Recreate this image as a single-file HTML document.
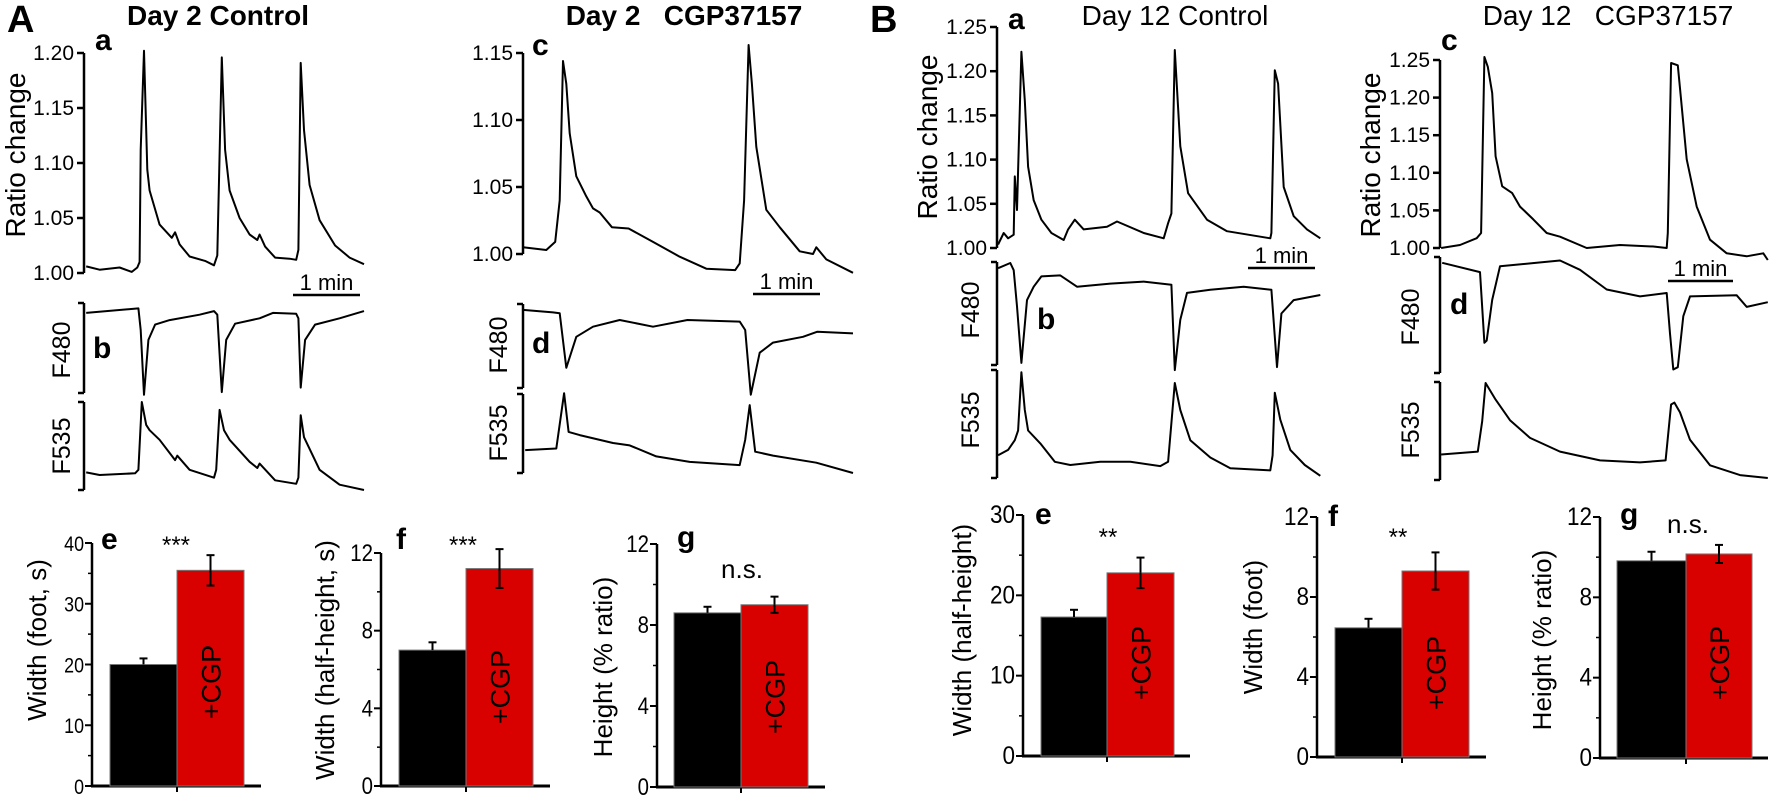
<!DOCTYPE html>
<html><head><meta charset="utf-8"><title>Calcium ratio traces and bar charts</title>
<style>
html,body{margin:0;padding:0;background:#fff;}
svg{display:block;font-family:"Liberation Sans",sans-serif;}
svg text{white-space:pre;}
</style></head>
<body>
<svg id="fig" width="1772" height="799" viewBox="0 0 1772 799" xmlns="http://www.w3.org/2000/svg"></svg>
<script>
// ===== Trace data (time in s, value in ratio / normalized fluorescence) =====
const aRatioT = [2,14,32,43,48,50,51,54,57,59,68,79,82,86,95,109,117,120,124,127,131,140,149,156,158,163,172,185,191,193,195,198,203,212,226,239,252];
const aRatioV = [1.006,1.003,1.005,1.001,1.005,1.010,1.112,1.202,1.094,1.075,1.044,1.032,1.037,1.026,1.015,1.011,1.007,1.016,1.196,1.112,1.075,1.050,1.035,1.030,1.035,1.024,1.014,1.013,1.012,1.021,1.191,1.130,1.080,1.048,1.025,1.014,1.008];
const aF480T = [2,49,51,54,58,64,77,104,117,120,124,128,136,158,170,191,193,195,199,208,230,252];
const aF480V = [0.89,0.94,0.70,-0.02,0.59,0.76,0.81,0.87,0.91,0.87,0.01,0.59,0.77,0.83,0.89,0.88,0.83,0.06,0.59,0.76,0.83,0.91];
const aF535T = [2,14,46,49,52,56,59,68,82,84,95,117,119,122,126,131,149,156,158,172,191,193,195,198,212,230,252];
const aF535V = [0.20,0.17,0.19,0.23,1.0,0.74,0.68,0.57,0.34,0.39,0.23,0.14,0.23,0.91,0.68,0.57,0.32,0.25,0.30,0.11,0.07,0.14,0.85,0.60,0.23,0.06,0.0];

const cRatioT = [0,21,29,33,36,39,42,48,57,63,69,80,95,117,141,165,191,195,199,203,206,210,219,231,249,261,264,273,297];
const cRatioV = [1.005,1.003,1.009,1.040,1.144,1.127,1.090,1.058,1.043,1.034,1.031,1.020,1.019,1.009,0.998,0.989,0.988,0.993,1.040,1.156,1.127,1.080,1.033,1.020,1.002,1.000,1.005,0.996,0.986];
const cF480T = [0,27,33,39,48,63,87,117,148,195,200,205,213,225,252,265,297];
const cF480V = [0.93,0.90,0.89,0.24,0.61,0.73,0.81,0.73,0.81,0.79,0.69,-0.08,0.42,0.54,0.61,0.67,0.65];
const cF535T = [2,30,37,41,51,81,96,120,150,195,200,204,209,225,264,297];
const cF535V = [0.29,0.31,1.01,0.52,0.48,0.38,0.35,0.21,0.14,0.10,0.42,0.86,0.27,0.22,0.13,0.0];

const bRatioT = [1,6,10,15,16,18,22,25,28,33,40,49,60,64,70,78,99,108,132,150,154,157,160,165,172,189,207,246,247,250,253,258,267,279,291];
const bRatioV = [1.004,1.017,1.011,1.015,1.081,1.043,1.222,1.167,1.092,1.054,1.032,1.017,1.009,1.021,1.032,1.021,1.024,1.030,1.017,1.011,1.028,1.039,1.224,1.115,1.062,1.032,1.019,1.011,1.017,1.201,1.186,1.069,1.036,1.021,1.011];
const bF480T = [1,12,15,18,22,27,33,40,57,72,102,132,157,160,165,171,192,222,247,252,256,267,291];
const bF480V = [0.94,0.99,0.92,0.57,0.02,0.63,0.76,0.86,0.87,0.76,0.79,0.81,0.78,-0.05,0.44,0.70,0.73,0.76,0.73,-0.02,0.50,0.63,0.68];
const bF535T = [1,10,16,19,22,25,28,39,52,66,93,120,147,154,160,165,174,192,210,246,248,250,255,264,277,291];
const bF535V = [0.21,0.26,0.35,0.44,0.98,0.63,0.44,0.32,0.15,0.12,0.15,0.15,0.11,0.15,0.88,0.63,0.35,0.19,0.09,0.07,0.21,0.79,0.54,0.26,0.12,0.02];

const dRatioT = [1,18,33,37,40,43,47,50,56,65,72,84,96,108,132,162,192,204,205,208,214,217,222,231,243,258,276,291,295];
const dRatioV = [1.000,1.004,1.013,1.020,1.254,1.241,1.206,1.122,1.082,1.073,1.055,1.038,1.020,1.015,1.000,1.004,1.002,1.000,1.020,1.246,1.243,1.197,1.118,1.055,1.011,0.993,0.989,0.993,0.984];
const dF480T = [2,36,40,42,47,54,87,108,126,150,180,204,207,210,214,219,225,267,276,295];
const dF480V = [0.95,0.87,0.26,0.28,0.63,0.92,0.95,0.97,0.89,0.72,0.66,0.69,0.34,0.03,0.05,0.49,0.66,0.67,0.57,0.61];
const dF535T = [1,34,38,41,50,63,81,108,144,180,203,208,211,216,225,243,270,295];
const dF535V = [0.26,0.29,0.6,0.99,0.82,0.61,0.43,0.29,0.20,0.18,0.20,0.77,0.79,0.69,0.41,0.15,0.05,0.02];

// ===== Bar data =====
const barGroups = ["Control", "+CGP"];
const aeValues = [20.0, 35.5];  const aeErrors = [1.0, 2.5];  const aeTicks = ["0","10","20","30","40"];
const afValues = [7.0, 11.2];   const afErrors = [0.4, 1.0];  const afTicks = ["0","4","8","12"];
const agValues = [8.6, 9.0];    const agErrors = [0.3, 0.4];  const agTicks = ["0","4","8","12"];
const beValues = [17.3, 22.8];  const beErrors = [0.9, 1.9];  const beTicks = ["0","10","20","30"];
const bfValues = [6.46, 9.3];   const bfErrors = [0.45, 0.93]; const bfTicks = ["0","4","8","12"];
const bgValues = [9.82, 10.16]; const bgErrors = [0.45, 0.45]; const bgTicks = ["0","4","8","12"];
const ratioTicksA = ["1.00","1.05","1.10","1.15","1.20"];
const ratioTicksC = ["1.00","1.05","1.10","1.15"];
const ratioTicksB = ["1.00","1.05","1.10","1.15","1.20","1.25"];

const NS = "http://www.w3.org/2000/svg";
const svg = document.getElementById("fig");
function mk(tag, attrs, parent) {
  const e = document.createElementNS(NS, tag);
  for (const k in attrs) e.setAttribute(k, attrs[k]);
  (parent || svg).appendChild(e);
  return e;
}
function txt(str, x, y, size, opts, name) {
  opts = opts || {};
  const e = mk("text", {x: x, y: y, "font-size": size, "text-anchor": opts.anchor || "start",
    "font-weight": opts.bold ? "bold" : "normal", fill: opts.fill || "#000"});
  if (opts.rot) e.setAttribute("transform", "rotate(-90," + x + "," + y + ")");
  if (opts.sx) e.setAttribute("transform", "translate(" + x + "," + y + ") scale(" + opts.sx + ",1) translate(" + (-x) + "," + (-y) + ")");
  e.setAttributeNS("http://www.w3.org/XML/1998/namespace", "xml:space", "preserve");
  e.textContent = str;
  
  
  return e;
}
function line(x1, y1, x2, y2, w, name) {
  const e = mk("line", {x1: x1, y1: y1, x2: x2, y2: y2, stroke: "#000", "stroke-width": w || 2.5});
  
  
  return e;
}

function drawTrace(T, V, x0, vLo, vHi, yLo, yHi, name) {
  const xs = t => x0 + t / 0.9;
  const ys = v => yLo + (v - vLo) / (vHi - vLo) * (yHi - yLo);
  let d = "";
  for (let i = 0; i < T.length; i++) d += (i ? "L" : "M") + xs(T[i]).toFixed(1) + "," + ys(V[i]).toFixed(1);
  const p = mk("path", {d: d, fill: "none", stroke: "#000", "stroke-width": 2, "stroke-linejoin": "round"});
  
  
}
function ratioAxis(x, labels, vLo, step, yLo, yHi, name) {
  line(x, yHi, x, yLo, 2.5, name + '-axis');
  const n = labels.length - 1;
  labels.forEach((lab, i) => {
    const y = yLo + (i / n) * (yHi - yLo);
    line(x - 7, y, x, y, 2.5, name + '-tick');
    txt(lab, x - 10, y + 7, 21, {anchor: "end"}, name + '-tick-label');
  });
}
function bracket(x, y1, y2, name) {
  line(x, y1, x, y2, 2.5, name);
  line(x, y1, x - 6, y1, 2.5, name + '-cap');
  line(x, y2, x - 6, y2, 2.5, name + '-cap');
}
function scaleBar(x1, x2, y, name) {
  line(x1, y, x2, y, 2.5, name);
  txt("1 min", (x1 + x2) / 2, y - 5, 22, {anchor: "middle"}, name + '-label');
}

// ---------- Panel A: Day 2 Control ----------
txt("A", 7, 32, 38, {bold: true}, "panel-letter-a");
txt("Day 2 Control", 218, 25, 28, {bold: true, anchor: "middle"}, "title-day2-control");
txt("a", 95, 50, 30, {bold: true}, "sublabel-a");
txt("Ratio change", 25, 155, 28, {rot: true, anchor: "middle"}, "y-axis-title");
ratioAxis(84, ratioTicksA, 1.0, 0.05, 273, 53, "ratio-a");
drawTrace(aRatioT, aRatioV, 84, 1.0, 1.2, 273, 53, "ratio-trace-a");
scaleBar(293, 360, 295, "scale-bar-a");
bracket(84, 303, 393, "f480-axis-a");
txt("F480", 70, 350, 25, {rot: true, anchor: "middle"}, "f480-label-a");
txt("b", 93, 358, 30, {bold: true}, "sublabel-b");
drawTrace(aF480T, aF480V, 84, 0, 1, 393, 303, "f480-trace-a");
bracket(84, 402, 490, "f535-axis-a");
txt("F535", 70, 446, 25, {rot: true, anchor: "middle"}, "f535-label-a");
drawTrace(aF535T, aF535V, 84, 0, 1, 490, 402, "f535-trace-a");

// ---------- Panel A c: Day 2 CGP ----------
txt("Day 2   CGP37157", 684, 25, 28, {bold: true, anchor: "middle"}, "title-day2-cgp");
txt("c", 532, 55, 30, {bold: true}, "sublabel-c");
ratioAxis(523, ratioTicksC, 1.0, 0.05, 254, 53, "ratio-c");
drawTrace(cRatioT, cRatioV, 523, 1.0, 1.15, 254, 53, "ratio-trace-c");
scaleBar(753, 820, 294, "scale-bar-c");
bracket(523, 304, 388, "f480-axis-c");
txt("F480", 507, 345, 25, {rot: true, anchor: "middle"}, "f480-label-c");
txt("d", 532, 353, 30, {bold: true}, "sublabel-d");
drawTrace(cF480T, cF480V, 523, 0, 1, 388, 304, "f480-trace-c");
bracket(523, 394, 473, "f535-axis-c");
txt("F535", 507, 433, 25, {rot: true, anchor: "middle"}, "f535-label-c");
drawTrace(cF535T, cF535V, 523, 0, 1, 473, 394, "f535-trace-c");

// ---------- Panel B a: Day 12 Control ----------
txt("B", 870, 32, 38, {bold: true}, "panel-letter-b");
txt("Day 12 Control", 1175, 25, 28, {anchor: "middle"}, "title-day12-control");
txt("a", 1008, 29, 30, {bold: true}, "sublabel-ba");
txt("Ratio change", 937, 137, 28, {rot: true, anchor: "middle"}, "y-axis-title-b");
ratioAxis(997, ratioTicksB, 1.0, 0.05, 248, 27, "ratio-ba");
drawTrace(bRatioT, bRatioV, 997, 1.0, 1.25, 248, 27, "ratio-trace-ba");
scaleBar(1248, 1315, 268, "scale-bar-ba");
bracket(997, 262, 365, "f480-axis-ba");
txt("F480", 979, 310, 25, {rot: true, anchor: "middle"}, "f480-label-ba");
txt("b", 1037, 329, 30, {bold: true}, "sublabel-bb");
drawTrace(bF480T, bF480V, 997, 0, 1, 365, 262, "f480-trace-ba");
bracket(997, 370, 478, "f535-axis-ba");
txt("F535", 979, 420, 25, {rot: true, anchor: "middle"}, "f535-label-ba");
drawTrace(bF535T, bF535V, 997, 0, 1, 478, 370, "f535-trace-ba");

// ---------- Panel B c: Day 12 CGP ----------
txt("Day 12   CGP37157", 1608, 25, 28, {anchor: "middle"}, "title-day12-cgp");
txt("c", 1441, 50, 30, {bold: true}, "sublabel-bc");
txt("Ratio change", 1380, 155, 28, {rot: true, anchor: "middle"}, "y-axis-title-bc");
ratioAxis(1440, ratioTicksB, 1.0, 0.05, 248, 60, "ratio-bc");
drawTrace(dRatioT, dRatioV, 1440, 1.0, 1.25, 248, 60, "ratio-trace-bc");
scaleBar(1668, 1733, 281, "scale-bar-bc");
bracket(1440, 257, 373, "f480-axis-bc");
txt("F480", 1419, 317, 25, {rot: true, anchor: "middle"}, "f480-label-bc");
txt("d", 1450, 314, 30, {bold: true}, "sublabel-bd");
drawTrace(dF480T, dF480V, 1440, 0, 1, 373, 257, "f480-trace-bc");
bracket(1440, 382, 480, "f535-axis-bc");
txt("F535", 1419, 430, 25, {rot: true, anchor: "middle"}, "f535-label-bc");
drawTrace(dF535T, dF535V, 1440, 0, 1, 480, 382, "f535-trace-bc");

// ---------- Bar charts ----------
function barChart(c, values, errors, ticks) {
  const maxV = +ticks[ticks.length - 1];
  const ys = v => c.y0 - v / maxV * (c.y0 - c.yTop);
  line(c.ax, c.yTop, c.ax, c.y0 + 1, 2.5, c.name + '-y-axis');
  line(c.ax - 1, c.y0, c.xEnd, c.y0, 3, c.name + '-x-axis');
  line(c.b1, c.y0, c.b1, c.y0 + 6, 2, c.name + '-x-tick');
  const n = ticks.length - 1;
  for (let i = 0; i <= n; i++) {
    const v = +ticks[i], y = ys(v);
    line(c.ax - 7, y, c.ax, y, 2, c.name + '-tick');
    txt(ticks[i], c.ax - 8, y + 8, c.fs, {anchor: "end", sx: c.sx}, c.name + '-tick-label');
    if (i < n) {
      const ym = ys((v + +ticks[i + 1]) / 2);
      line(c.ax - 4, ym, c.ax, ym, 1.5, c.name + '-minor-tick');
    }
  }
  const xs = [c.b0, c.b1, c.b2];
  const fills = ["#000", "#d90000"];
  values.forEach((v, i) => {
    const r = mk("rect", {x: xs[i], y: ys(v), width: xs[i + 1] - xs[i], height: c.y0 - ys(v),
      fill: fills[i], stroke: "#777", "stroke-width": 1});
    
    
    const cx = (xs[i] + xs[i + 1]) / 2;
    line(cx, ys(v + errors[i]), cx, ys(v), 2, c.name + '-error-bar');
    line(cx - 4, ys(v + errors[i]), cx + 4, ys(v + errors[i]), 2, c.name + '-error-cap');
    if (i === 1) {
      line(cx, ys(v), cx, ys(v - errors[i]), 2, c.name + '-error-bar');
      line(cx - 4, ys(v - errors[i]), cx + 4, ys(v - errors[i]), 2, c.name + '-error-cap');
    }
  });
  const rc = (c.b1 + c.b2) / 2;
  txt(barGroups[1], rc + 10, c.cgpY, 27, {rot: true, anchor: "middle"}, c.name + '-cgp-label');
  txt(c.letter, c.lx, c.ly, 30, {bold: true}, c.name + '-letter');
  txt(c.sig, c.sigX, c.sigY, c.sig === "n.s." ? 26 : 24, {anchor: "middle"}, c.name + '-significance');
  txt(c.ylab, c.ylx, c.yly, 26, {rot: true, anchor: "middle"}, c.name + '-y-title');
}

barChart({name: "ae", ax: 92, yTop: 543, y0: 786, b0: 110, b1: 177, b2: 244, xEnd: 261, fs: 21, sx: 0.85,
  cgpY: 682, letter: "e", lx: 101, ly: 549, sig: "***", sigX: 176, sigY: 553, ylab: "Width (foot, s)", ylx: 46, yly: 640},
  aeValues, aeErrors, aeTicks);
barChart({name: "af", ax: 381, yTop: 553, y0: 786, b0: 399, b1: 466, b2: 533, xEnd: 550, fs: 24, sx: 0.85,
  cgpY: 687, letter: "f", lx: 396, ly: 549, sig: "***", sigX: 463, sigY: 553, ylab: "Width (half-height, s)", ylx: 334, yly: 660},
  afValues, afErrors, afTicks);
barChart({name: "ag", ax: 657, yTop: 544, y0: 787, b0: 674, b1: 741, b2: 808, xEnd: 825, fs: 24, sx: 0.85,
  cgpY: 697, letter: "g", lx: 677, ly: 547, sig: "n.s.", sigX: 742, sigY: 578, ylab: "Height (% ratio)", ylx: 612, yly: 667},
  agValues, agErrors, agTicks);
barChart({name: "be", ax: 1023, yTop: 515, y0: 756, b0: 1041, b1: 1107, b2: 1174, xEnd: 1190, fs: 25, sx: 0.9,
  cgpY: 663, letter: "e", lx: 1035, ly: 524, sig: "**", sigX: 1108, sigY: 545, ylab: "Width (half-height)", ylx: 971, yly: 630},
  beValues, beErrors, beTicks);
barChart({name: "bf", ax: 1317, yTop: 517, y0: 757, b0: 1335, b1: 1402, b2: 1469, xEnd: 1486, fs: 25, sx: 0.9,
  cgpY: 673, letter: "f", lx: 1328, ly: 526, sig: "**", sigX: 1398, sigY: 545, ylab: "Width (foot)", ylx: 1262, yly: 627},
  bfValues, bfErrors, bfTicks);
barChart({name: "bg", ax: 1600, yTop: 517, y0: 758, b0: 1617, b1: 1686, b2: 1752, xEnd: 1768, fs: 25, sx: 0.9,
  cgpY: 663, letter: "g", lx: 1620, ly: 524, sig: "n.s.", sigX: 1688, sigY: 533, ylab: "Height (% ratio)", ylx: 1551, yly: 640},
  bgValues, bgErrors, bgTicks);
</script>
</body></html>
